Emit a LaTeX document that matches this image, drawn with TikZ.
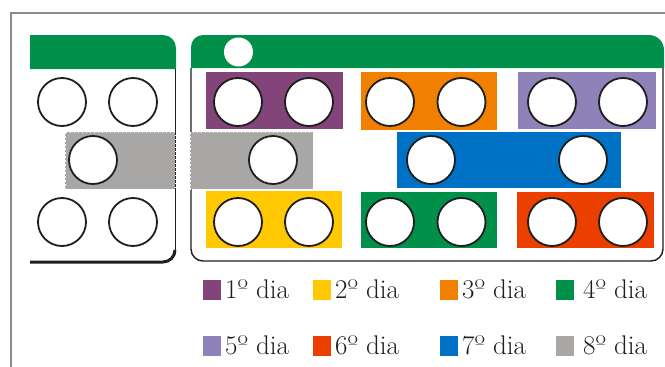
\documentclass[tikz,border=0pt]{standalone}
\usepackage{fontspec}
\definecolor{cpurple}{HTML}{83447A}
\definecolor{corange}{HTML}{F28000}
\definecolor{clav}{HTML}{8E82B9}
\definecolor{cblue}{HTML}{0072C6}
\definecolor{cyellow}{HTML}{FFC800}
\definecolor{cgreen}{HTML}{00904A}
\definecolor{cred}{HTML}{EB3F00}
\definecolor{cgray}{HTML}{A8A7A6}
\definecolor{cframe}{HTML}{8C8C8C}
\definecolor{cink}{HTML}{1E1E1E}
\begin{document}
\begin{tikzpicture}[x=1pt,y=-1pt,
  hole/.style={circle,draw=cink,line width=1.8pt,fill=white,minimum size=48pt,inner sep=0pt},
  bar/.style={rectangle,inner sep=0pt,anchor=north west},
  graybar/.style={fill=cgray,draw=white,line width=0.9pt,dash pattern=on 1.5pt off 2.5pt},
  key/.style={rectangle,inner sep=0pt,minimum width=18pt,minimum height=20pt},
  keytext/.style={anchor=base west,inner sep=0pt,text=cink,font=\fontsize{27}{30}\selectfont},
  cardline/.style={draw=cink,line width=1.4pt}]
\useasboundingbox (0,0) rectangle (665,367);
\fill[white] (0,0) rectangle (665,367);
% outer frame
\draw[cframe,line width=1.2pt] (11,367) -- (11,13) -- (665,13);
% left card
\fill[cgreen] (30,69) -- (30,35) -- (163,35) arc[start angle=270,end angle=360,radius=13] -- (176,69) -- cycle;
\draw[cink,line width=1pt] (175,69) -- (175,250);
\draw[cink,line width=3pt] (175,250) arc[start angle=0,end angle=90,radius=12] -- (30,262);
% right card
\fill[cgreen] (191,68) -- (191,47) arc[start angle=180,end angle=270,radius=12] -- (649,35) arc[start angle=270,end angle=360,radius=15] -- (664,68) -- cycle;
\draw[cardline,rounded corners=12pt] (191,68) -- (191,261) -- (663,261) -- (663,68);
\node[circle,fill=white,minimum size=29pt,inner sep=0pt] (lamp) at (238.5,52) {};
% coloured bars
\node[bar,fill=cpurple,minimum width=137pt,minimum height=57pt] (b1) at (206,72) {};
\node[bar,fill=corange,minimum width=136pt,minimum height=58pt] (b3) at (361,72) {};
\node[bar,fill=clav,minimum width=138pt,minimum height=57pt] (b5) at (518,72) {};
\node[bar,fill=cblue,minimum width=224pt,minimum height=56pt] (b7) at (397,132) {};
\node[bar,fill=cyellow,minimum width=136pt,minimum height=57pt] (b2) at (206,191) {};
\node[bar,fill=cgreen,minimum width=136pt,minimum height=56pt] (b4) at (361,192) {};
\node[bar,fill=cred,minimum width=137pt,minimum height=56pt] (b6) at (517,192) {};
\draw[graybar] (65,132) rectangle (175,189);
\draw[graybar] (190,132) rectangle (313,189);
% holes, left card
\node[hole] (l1) at (62,102) {};
\node[hole] (l2) at (133,102) {};
\node[hole] (l3) at (93,160) {};
\node[hole] (l4) at (62,222) {};
\node[hole] (l5) at (133,222) {};
% holes, right card
\node[hole] (r1) at (238,102) {};
\node[hole] (r2) at (309,102) {};
\node[hole] (r3) at (390,102) {};
\node[hole] (r4) at (461.5,102) {};
\node[hole] (r5) at (552,102) {};
\node[hole] (r6) at (623,102) {};
\node[hole] (r7) at (273,160) {};
\node[hole] (r8) at (431,160) {};
\node[hole] (r9) at (583,160) {};
\node[hole] (r10) at (238,222) {};
\node[hole] (r11) at (309,222) {};
\node[hole] (r12) at (390,222) {};
\node[hole] (r13) at (461.5,222) {};
\node[hole] (r14) at (552,222) {};
\node[hole] (r15) at (623,222) {};
% legend
\node[key,fill=cpurple] (k1) at (212,289.5) {};
\node[keytext] (t1) at (225,298) {1º dia};
\node[key,fill=cyellow] (k2) at (321.5,289.5) {};
\node[keytext] (t2) at (335,298) {2º dia};
\node[key,fill=corange] (k3) at (448.5,289.5) {};
\node[keytext] (t3) at (462,298) {3º dia};
\node[key,fill=cgreen] (k4) at (565,289.5) {};
\node[keytext] (t4) at (583,298) {4º dia};
\node[key,fill=clav] (k5) at (212,346) {};
\node[keytext] (t5) at (225,354) {5º dia};
\node[key,fill=cred] (k6) at (321.5,346) {};
\node[keytext] (t6) at (335,354) {6º dia};
\node[key,fill=cblue] (k7) at (448.5,346) {};
\node[keytext] (t7) at (462,354) {7º dia};
\node[key,fill=cgray] (k8) at (565,346) {};
\node[keytext] (t8) at (583,354) {8º dia};
\end{tikzpicture}
\end{document}
